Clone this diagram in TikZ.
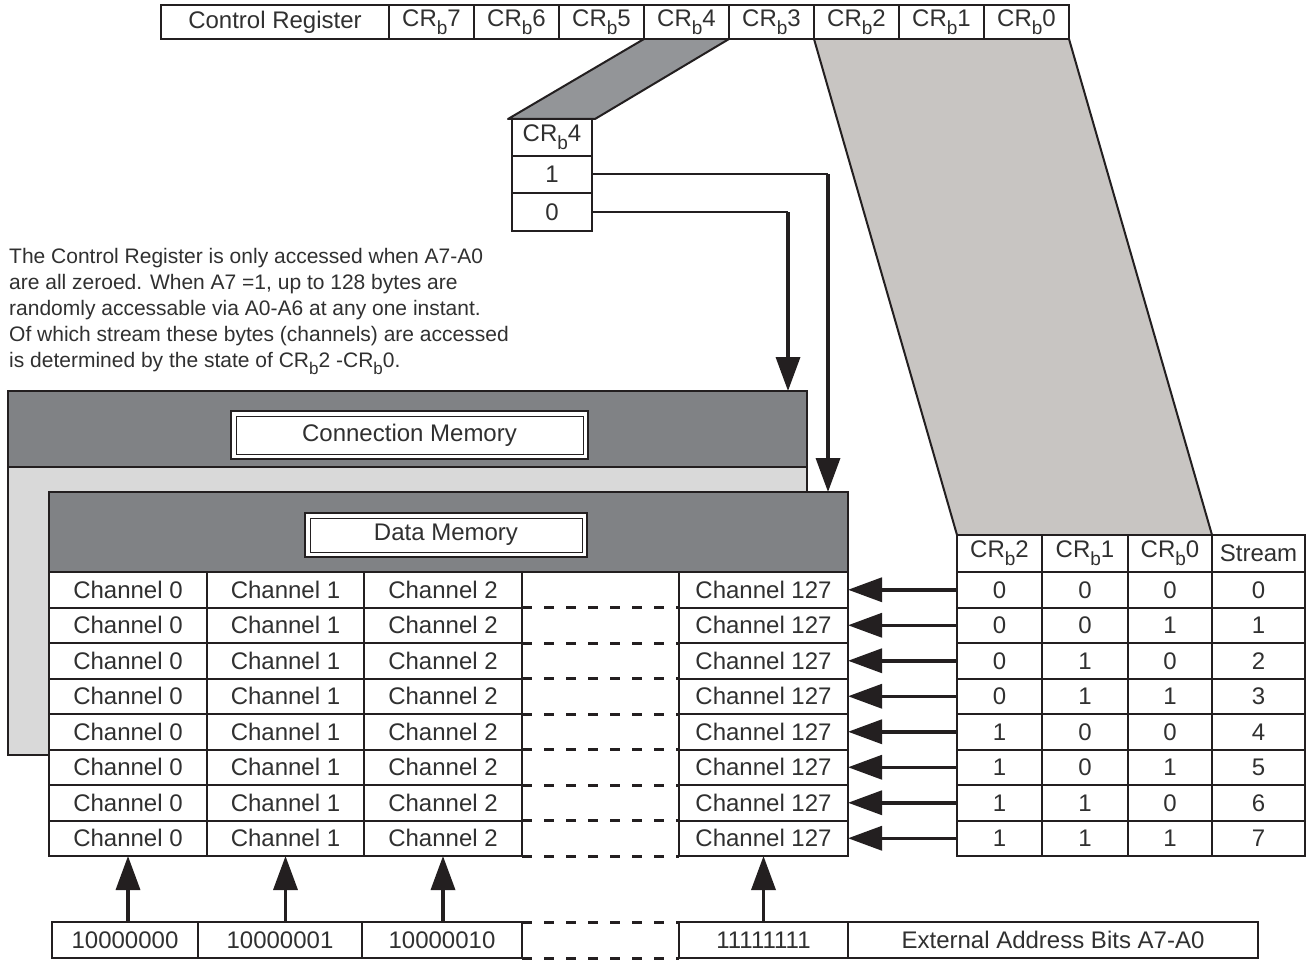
\documentclass[tikz,border=0pt]{standalone}
\usepackage{fontspec}
\setmainfont{Liberation Sans}
\usetikzlibrary{arrows.meta}
\definecolor{ink}{HTML}{231F20}
\definecolor{txt}{HTML}{303030}
\definecolor{hdr}{HTML}{808285}
\definecolor{cmbody}{HTML}{D9D9D9}
\definecolor{lpar}{HTML}{C8C5C2}
\definecolor{dpar}{HTML}{939598}
\pgfdeclarelayer{background}
\pgfsetlayers{background,main}
\newcommand{\crsub}[2]{CR\raisebox{-0.33em}{\fontsize{#1}{#1}\selectfont b}#2}
\begin{document}
\begin{tikzpicture}[x=1pt,y=-1pt,
  every node/.style={text=txt},
  font=\fontsize{24}{28}\selectfont,
  box/.style={draw=ink, line width=2pt, fill=white, inner sep=0pt, outer sep=0pt},
  panel/.style={draw=ink, line width=2pt, inner sep=0pt, outer sep=0pt},
  wire/.style={draw=ink, line width=2pt},
  arr/.style={draw=ink, line width=3.5pt, -{Triangle[length=34pt,width=24pt]}},
  gapdash/.style={draw=ink, line width=3pt, dash pattern=on 10pt off 12pt}]
\useasboundingbox (0,0) rectangle (1308,960);

% control register
\node[box, minimum width=228pt, minimum height=34pt] (creg) at (275,22) {Control Register};
\foreach \b [count=\i from 0] in {7,6,5,4,3,2,1,0}
  \node[box, minimum width=85pt, minimum height=34pt] (crb\b) at ({431.5+85*\i},22) {\crsub{19}{\b}};

% CRb4 box
\node[box, minimum width=80pt, minimum height=37pt] (b4h) at (552,137.5) {\crsub{19}{4}};
\node[box, minimum width=80pt, minimum height=37pt] (b4one) at (552,174.5) {1};
\node[box, minimum width=80pt, minimum height=37pt] (b4zero) at (552,212) {0};

% note
\node[anchor=north west, align=left, inner sep=0pt, font=\fontsize{21}{26}\selectfont] (note) at (9,248)
 {The Control Register is only accessed when A7-A0\\
  are all zeroed. When A7 =1, up to 128 bytes are\\
  randomly accessable via A0-A6 at any one instant.\\
  Of which stream these bytes (channels) are accessed\\
  is determined by the state of \crsub{17}{2} -\crsub{17}{0}.};

% connection memory
\node[panel, fill=cmbody, minimum width=799pt, minimum height=364pt] (cm) at (407.5,573) {};
\node[panel, fill=hdr, minimum width=799pt, minimum height=76pt] (cmh) at (407.5,429) {};
\node[panel, line width=1.2pt, fill=white, minimum width=357pt, minimum height=48pt] (cmlo) at (409.5,435) {};
\node[panel, line width=1pt, minimum width=347pt, minimum height=38pt] (cml) at (409.5,435) {Connection Memory};

% data memory
\node[inner sep=0pt, fill=white, minimum width=799pt, minimum height=364pt] (dm) at (448.5,674) {};
\node[panel, fill=hdr, minimum width=799pt, minimum height=80pt] (dmh) at (448.5,532) {};
\node[panel, line width=1.2pt, fill=white, minimum width=282pt, minimum height=44pt] (dmlo) at (446,535) {};
\node[panel, line width=1pt, minimum width=272pt, minimum height=34pt] (dml) at (446,535) {Data Memory};

% stream table header
\node[box, minimum width=85pt, minimum height=37pt] (th0) at (999.5,553.5) {\crsub{19}{2}};
\node[box, minimum width=86pt, minimum height=37pt] (th1) at (1085,553.5) {\crsub{19}{1}};
\node[box, minimum width=84pt, minimum height=37pt] (th2) at (1170,553.5) {\crsub{19}{0}};
\node[box, minimum width=93pt, minimum height=37pt] (th3) at (1258.5,553.5) {Stream};

\foreach \r/\p/\q/\s in {1/0/0/0,2/0/0/1,3/0/1/0,4/0/1/1,5/1/0/0,6/1/0/1,7/1/1/0,8/1/1/1}{
  \pgfmathsetmacro{\yy}{572+35.5*(\r-0.5)}
  \pgfmathtruncatemacro{\st}{\r-1}
  \node[box, minimum width=158pt, minimum height=35.5pt] (cha\r) at (128,\yy) {Channel 0};
  \node[box, minimum width=157pt, minimum height=35.5pt] (chb\r) at (285.5,\yy) {Channel 1};
  \node[box, minimum width=158pt, minimum height=35.5pt] (chc\r) at (443,\yy) {Channel 2};
  \node[box, minimum width=169pt, minimum height=35.5pt] (chd\r) at (763.5,\yy) {Channel 127};
  \draw[gapdash] (chc\r.south east) -- (chd\r.south west);
  \node[box, minimum width=85pt, minimum height=35.5pt] (ta\r) at (999.5,\yy) {\p};
  \node[box, minimum width=86pt, minimum height=35.5pt] (tb\r) at (1085,\yy) {\q};
  \node[box, minimum width=84pt, minimum height=35.5pt] (tc\r) at (1170,\yy) {\s};
  \node[box, minimum width=93pt, minimum height=35.5pt] (td\r) at (1258.5,\yy) {\st};
  \draw[arr] (ta\r.west) -- (chd\r.east);
}

% bottom address boxes
\node[box, minimum width=146pt, minimum height=36pt] (ba) at (125,940) {10000000};
\node[box, minimum width=164pt, minimum height=36pt] (bb) at (280,940) {10000001};
\node[box, minimum width=160pt, minimum height=36pt] (bc) at (442,940) {10000010};
\node[box, minimum width=169pt, minimum height=36pt] (bd) at (763.5,940) {11111111};
\node[box, minimum width=410pt, minimum height=36pt] (be) at (1053,940) {External Address Bits A7-A0};
\draw[gapdash] (bc.north east) -- (bd.north west);
\draw[gapdash] (bc.south east) -- (bd.south west);

\draw[arr] (ba.north -| cha8.south) -- (cha8.south);
\draw[arr] (bb.north -| chb8.south) -- (chb8.south);
\draw[arr] (bc.north -| chc8.south) -- (chc8.south);
\draw[arr] (bd.north -| chd8.south) -- (chd8.south);

% CRb4 connectors
\coordinate (cmin) at ([xshift=-19pt]cm.north east);
\coordinate (dmin) at ([xshift=-20pt]dmh.north east);
\draw[wire] (b4zero.east) -- (b4zero.east -| cmin);
\draw[arr] (b4zero.east -| cmin) -- (cmin);
\draw[wire] (b4one.east) -- (b4one.east -| dmin);
\draw[arr] (b4one.east -| dmin) -- (dmin);

% background and parallelograms
\begin{pgfonlayer}{background}
  \fill[white] (0,0) rectangle (1308,960);
  \filldraw[fill=dpar, draw=ink, line width=2pt, line join=round]
    (crb4.south west) -- (crb4.south east) -- ([xshift=3pt]b4h.north east) -- ([xshift=-4pt]b4h.north west) -- cycle;
  \fill[lpar] (crb2.south west) -- (crb0.south east) -- (th2.north east) -- (th0.north west) -- cycle;
  \draw[ink, line width=2pt] (crb2.south west) -- (th0.north west);
  \draw[ink, line width=2pt] (crb0.south east) -- (th2.north east);
\end{pgfonlayer}
\end{tikzpicture}
\end{document}
